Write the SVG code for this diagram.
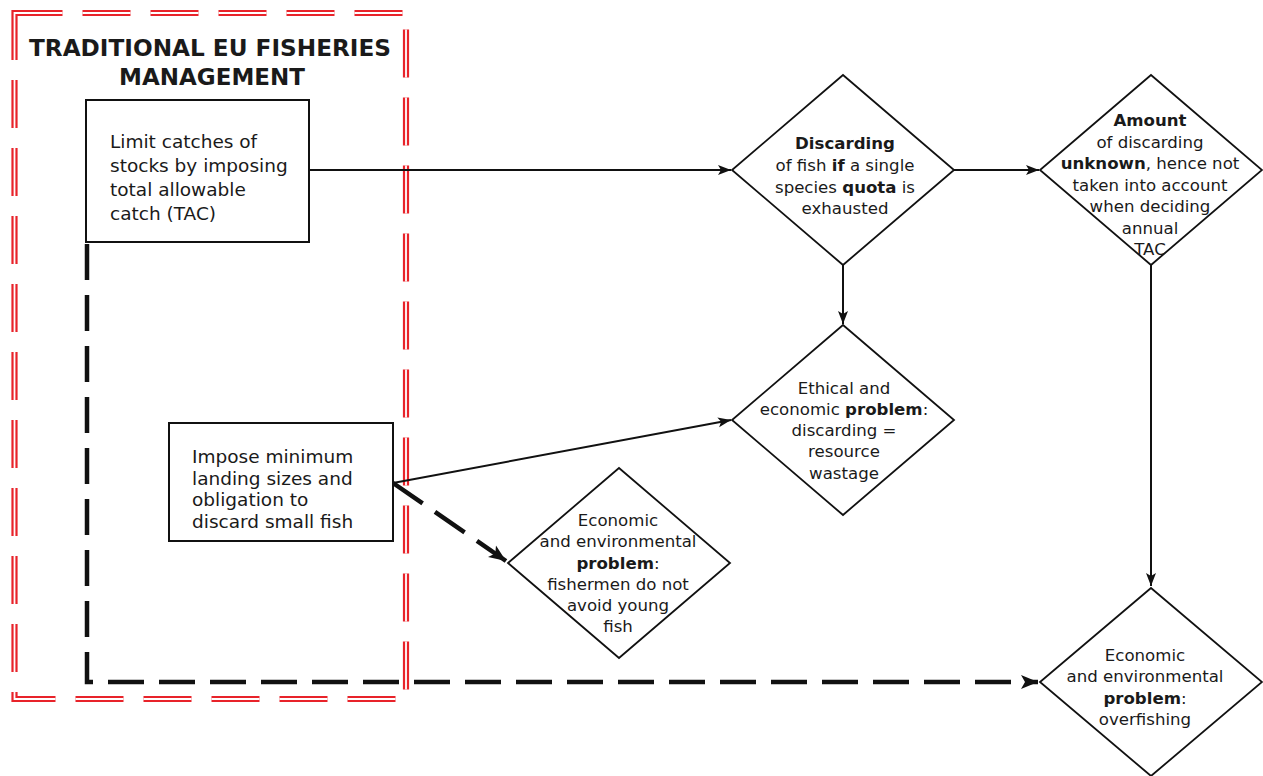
<svg xmlns="http://www.w3.org/2000/svg" width="1263" height="776" viewBox="0 0 1263 776">
<style>
text{font-family:"DejaVu Sans","Liberation Sans",sans-serif;fill:#1a1a1a}
.box{fill:#fff;stroke:#111;stroke-width:2}
.dia{fill:#fff;stroke:#111;stroke-width:1.8}
.bt{font-size:18.5px}
.dt{font-size:16.6px;text-anchor:middle}
.b{font-weight:bold}
.solid{fill:none;stroke:#111;stroke-width:2}
.dash{fill:none;stroke:#111;stroke-width:4.5;stroke-dasharray:36 15}
</style>
<defs>
<marker id="ah" markerUnits="userSpaceOnUse" markerWidth="14" markerHeight="12" viewBox="0 0 14 12" refX="13" refY="6" orient="auto">
<path d="M0,1 L13,6 L0,11 L3,6 Z" fill="#111"/>
</marker>
<marker id="ahb" markerUnits="userSpaceOnUse" markerWidth="18" markerHeight="16" viewBox="0 0 18 16" refX="17" refY="8" orient="auto">
<path d="M0,1 L17,8 L0,15 L4,8 Z" fill="#111"/>
</marker>
</defs>
<rect width="1263" height="776" fill="#fff"/>
<g id="frame">
<rect x="14.5" y="13" width="391.5" height="686" fill="none" stroke="#e8232a" stroke-width="6.2" stroke-dasharray="48 20"/>
<rect x="14.5" y="13" width="391.5" height="686" fill="none" stroke="#fff" stroke-width="1.8" stroke-dasharray="48 20"/>
<text x="210" y="56" font-size="23" font-weight="bold" text-anchor="middle" textLength="362" lengthAdjust="spacingAndGlyphs">TRADITIONAL EU FISHERIES</text>
<text x="212" y="85" font-size="23" font-weight="bold" text-anchor="middle">MANAGEMENT</text>
</g>
<g id="connectors">
<path class="dash" d="M87,244 V682 H1038" marker-end="url(#ahb)"/>
<path class="dash" d="M393,483 L506,561" marker-end="url(#ahb)"/>
<path class="solid" d="M309,170 H731" marker-end="url(#ah)"/>
<path class="solid" d="M954,170 H1039" marker-end="url(#ah)"/>
<path class="solid" d="M843,265 V324" marker-end="url(#ah)"/>
<path class="solid" d="M1151,265 V586" marker-end="url(#ah)"/>
<path class="solid" d="M393,483 L731,420" marker-end="url(#ah)"/>
</g>
<g id="box1">
<rect class="box" x="86" y="100" width="223" height="142"/>
<text class="bt" x="110" y="148">Limit catches of</text>
<text class="bt" x="110" y="172">stocks by imposing</text>
<text class="bt" x="110" y="196">total allowable</text>
<text class="bt" x="110" y="220">catch (TAC)</text>
</g>
<g id="box2">
<rect class="box" x="169" y="423" width="224" height="118"/>
<text class="bt" x="192" y="463">Impose minimum</text>
<text class="bt" x="192" y="485">landing sizes and</text>
<text class="bt" x="192" y="506">obligation to</text>
<text class="bt" x="192" y="528">discard small fish</text>
</g>
<g id="d1">
<polygon class="dia" points="843,75 954,170 843,265 732,170"/>
<text class="dt" x="845" y="149"><tspan class="b">Discarding</tspan></text>
<text class="dt" x="845" y="171">of fish <tspan class="b">if</tspan> a single</text>
<text class="dt" x="845" y="193">species <tspan class="b">quota</tspan> is</text>
<text class="dt" x="845" y="214">exhausted</text>
</g>
<g id="d2">
<polygon class="dia" points="1151,75 1262,170 1151,265 1040,170"/>
<text class="dt" x="1150" y="126"><tspan class="b">Amount</tspan></text>
<text class="dt" x="1150" y="147.5">of discarding</text>
<text class="dt" x="1150" y="169"><tspan class="b">unknown</tspan>, hence not</text>
<text class="dt" x="1150" y="190.5">taken into account</text>
<text class="dt" x="1150" y="212">when deciding</text>
<text class="dt" x="1150" y="233.5">annual</text>
<text class="dt" x="1150" y="255">TAC</text>
</g>
<g id="d3">
<polygon class="dia" points="843,325 954,420 843,515 732,420"/>
<text class="dt" x="844" y="394">Ethical and</text>
<text class="dt" x="844" y="415">economic <tspan class="b">problem</tspan>:</text>
<text class="dt" x="844" y="436">discarding =</text>
<text class="dt" x="844" y="457">resource</text>
<text class="dt" x="844" y="479">wastage</text>
</g>
<g id="d4">
<polygon class="dia" points="619,468 730,563 619,658 508,563"/>
<text class="dt" x="618" y="526">Economic</text>
<text class="dt" x="618" y="547">and environmental</text>
<text class="dt" x="618" y="569"><tspan class="b">problem</tspan>:</text>
<text class="dt" x="618" y="590">fishermen do not</text>
<text class="dt" x="618" y="611">avoid young</text>
<text class="dt" x="618" y="632">fish</text>
</g>
<g id="d5">
<polygon class="dia" points="1151,588 1262,682 1151,776 1040,682"/>
<text class="dt" x="1145" y="661">Economic</text>
<text class="dt" x="1145" y="682">and environmental</text>
<text class="dt" x="1145" y="704"><tspan class="b">problem</tspan>:</text>
<text class="dt" x="1145" y="725">overfishing</text>
</g>
</svg>
